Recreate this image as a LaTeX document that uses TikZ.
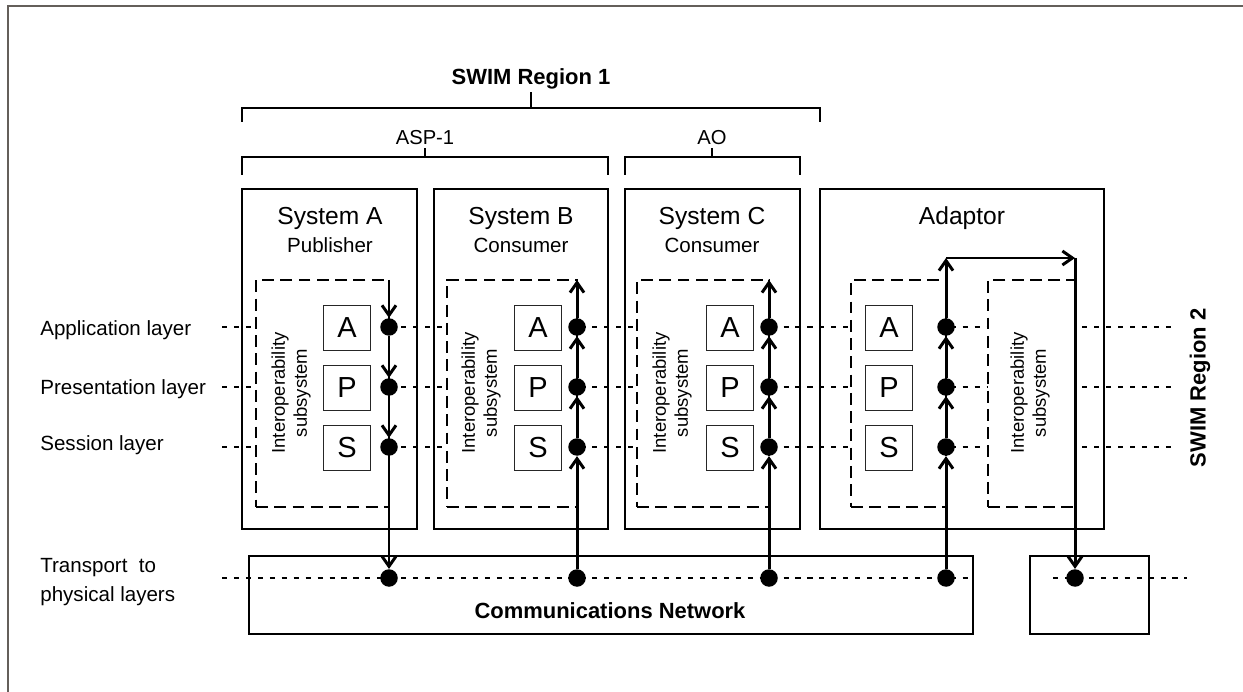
\documentclass[tikz,border=0pt]{standalone}
\usepackage{fontspec}
\setmainfont{Liberation Sans}
\usetikzlibrary{arrows.meta, fit, positioning}

\definecolor{framegray}{RGB}{100,95,90}

\tikzset{
    box/.style={draw, line width=1.35pt, inner sep=0pt},
    subsys/.style={draw, fill=white, line width=1.35pt, dash pattern=on 6.8pt off 3.6pt, inner sep=0pt},
    layerbox/.style={draw=black!85, fill=white, line width=0.7pt, minimum width=0.94cm, minimum height=0.9cm, inner sep=0pt, font=\fontsize{16.5}{18}\selectfont},
    dot/.style={circle, fill=black, minimum size=0.35cm, inner sep=0pt},
    layer/.style={line width=1.35pt, dash pattern=on 2.9pt off 3.9pt},
    flow/.style={line width=1.7pt, -{Straight Barb[length=2mm, width=2.8mm]}},
    bracket/.style={line width=1.35pt},
    title/.style={anchor=base, font=\fontsize{14}{16}\selectfont},
    role/.style={anchor=base, font=\fontsize{11.7}{14}\selectfont},
    lbl/.style={anchor=base west, inner sep=0pt, font=\fontsize{11.7}{14}\selectfont},
    interop/.style={rotate=90, align=center, font=\fontsize{10.5}{12.5}\selectfont},
    heading/.style={font=\bfseries\fontsize{12.5}{15}\selectfont}
}

\begin{document}
\begin{tikzpicture}[x=0.02cm, y=-0.02cm]
    \useasboundingbox (0,0) rectangle (1243,692);
    \draw[framegray, line width=0.8pt] (8,692) -- (8,6) -- (1243,6);

    % Regions
    \node[heading, anchor=base] (swim1) at (531,85) {SWIM Region 1};
    \draw[bracket] (242,122) -- (242,108) -- (820,108) -- (820,122);
    \draw[bracket] (531,108) -- (531,92);
    \node[role, font=\fontsize{11.5}{14}\selectfont] (asp) at (425,145) {ASP-1};
    \draw[bracket] (242,175) -- (242,157) -- (608,157) -- (608,175);
    \draw[bracket] (425,157) -- (425,148);
    \node[role, font=\fontsize{11.5}{14}\selectfont] (ao) at (712,145) {AO};
    \draw[bracket] (625,175) -- (625,157) -- (800,157) -- (800,175);
    \draw[bracket] (712,157) -- (712,148);
    \node[heading, rotate=90] (swim2) at (1200,388) {SWIM Region 2};

    % Layers
    \node[lbl] (lapp) at (40,336) {Application layer};
    \node[lbl] (lpres) at (40,394) {Presentation layer};
    \node[lbl] (lsess) at (40,450) {Session layer};
    \node[lbl, align=left, font=\fontsize{11.7}{16}\selectfont] (ltrans) at (40,601) {Transport~ to\\physical layers};

    \coordinate (appL) at (222,327);
    \coordinate (appR) at (1177,327);
    \coordinate (presL) at (222,387);
    \coordinate (presR) at (1177,387);
    \coordinate (sessL) at (222,447);
    \coordinate (sessR) at (1177,447);
    \coordinate (transL) at (222,578);
    \coordinate (transM) at (973,578);
    \coordinate (transN) at (1053,578);
    \coordinate (transR) at (1187,578);
    \draw[layer] (appL) -- (appR);
    \draw[layer] (presL) -- (presR);
    \draw[layer] (sessL) -- (sessR);
    \draw[layer] (transL) -- (transM);
    \draw[layer] (transN) -- (transR);

    % Systems
    \node[box, fit={(242,189) (417,529)}] (sysA) {};
    \node[box, fit={(434,189) (608,529)}] (sysB) {};
    \node[box, fit={(625,189) (800,529)}] (sysC) {};
    \node[box, fit={(820,189) (1104,529)}] (adaptor) {};
    \node[box, fit={(249,556) (973,634)}] (net) {};
    \node[box, fit={(1030,556) (1149,634)}] (remote) {};

    \node[title] (titleA) at (330,225) {System A};
    \node[role] (roleA) at (330,253) {Publisher};
    \node[title] (titleB) at (521,225) {System B};
    \node[role] (roleB) at (521,253) {Consumer};
    \node[title] (titleC) at (712,225) {System C};
    \node[role] (roleC) at (712,253) {Consumer};
    \node[title] (titleD) at (962,225) {Adaptor};
    \node[heading, anchor=base] (netname) at (610,618) {Communications Network};

    % Interoperability subsystems
    \node[subsys, fit={(256,280) (389,507)}] (isA) {};
    \node[subsys, fit={(447,280) (577,507)}] (isB) {};
    \node[subsys, fit={(637,280) (769,507)}] (isC) {};
    \node[subsys, fit={(851,280) (946,507)}] (isD) {};
    \node[subsys, fit={(988,280) (1075,507)}] (isE) {};
    \node[interop] (txtA) at (291,393) {Interoperability\\subsystem};
    \node[interop] (txtB) at (481,393) {Interoperability\\subsystem};
    \node[interop] (txtC) at (672,393) {Interoperability\\subsystem};
    \node[interop] (txtE) at (1030,393) {Interoperability\\subsystem};

    \node[layerbox] (aA) at (347,328) {A};
    \node[layerbox] (pA) at (347,388) {P};
    \node[layerbox] (sA) at (347,448) {S};
    \node[layerbox] (aB) at (538,328) {A};
    \node[layerbox] (pB) at (538,388) {P};
    \node[layerbox] (sB) at (538,448) {S};
    \node[layerbox] (aC) at (730,328) {A};
    \node[layerbox] (pC) at (730,388) {P};
    \node[layerbox] (sC) at (730,448) {S};
    \node[layerbox] (aD) at (889,328) {A};
    \node[layerbox] (pD) at (889,388) {P};
    \node[layerbox] (sD) at (889,448) {S};

    % Access points
    \node[dot] (dA1) at (389,327) {};
    \node[dot] (dA2) at (389,387) {};
    \node[dot] (dA3) at (389,447) {};
    \node[dot] (dA4) at (389,578) {};
    \node[dot] (dB1) at (577,327) {};
    \node[dot] (dB2) at (577,387) {};
    \node[dot] (dB3) at (577,447) {};
    \node[dot] (dB4) at (577,578) {};
    \node[dot] (dC1) at (769,327) {};
    \node[dot] (dC2) at (769,387) {};
    \node[dot] (dC3) at (769,447) {};
    \node[dot] (dC4) at (769,578) {};
    \node[dot] (dD1) at (946,327) {};
    \node[dot] (dD2) at (946,387) {};
    \node[dot] (dD3) at (946,447) {};
    \node[dot] (dD4) at (946,578) {};
    \node[dot] (dE) at (1075,578) {};

    % Message flows
    \coordinate (tA) at (389,280);
    \coordinate (tB) at (577,280);
    \coordinate (tC) at (769,280);
    \coordinate (tD) at (946,258);
    \coordinate (tE) at (1075,258);

    \draw[flow] (tA) -- (dA1);
    \draw[flow] (dA1) -- (dA2);
    \draw[flow] (dA2) -- (dA3);
    \draw[flow] (dA3) -- (dA4);

    \draw[flow] (dB4) -- (dB3);
    \draw[flow] (dB3) -- (dB2);
    \draw[flow] (dB2) -- (dB1);
    \draw[flow] (dB1) -- (tB);

    \draw[flow] (dC4) -- (dC3);
    \draw[flow] (dC3) -- (dC2);
    \draw[flow] (dC2) -- (dC1);
    \draw[flow] (dC1) -- (tC);

    \draw[flow] (dD4) -- (dD3);
    \draw[flow] (dD3) -- (dD2);
    \draw[flow] (dD2) -- (dD1);
    \draw[flow] (dD1) -- (tD);
    \draw[flow] (tD) -- (tE);
    \draw[flow] (tE) -- (dE);

\end{tikzpicture}
\end{document}
